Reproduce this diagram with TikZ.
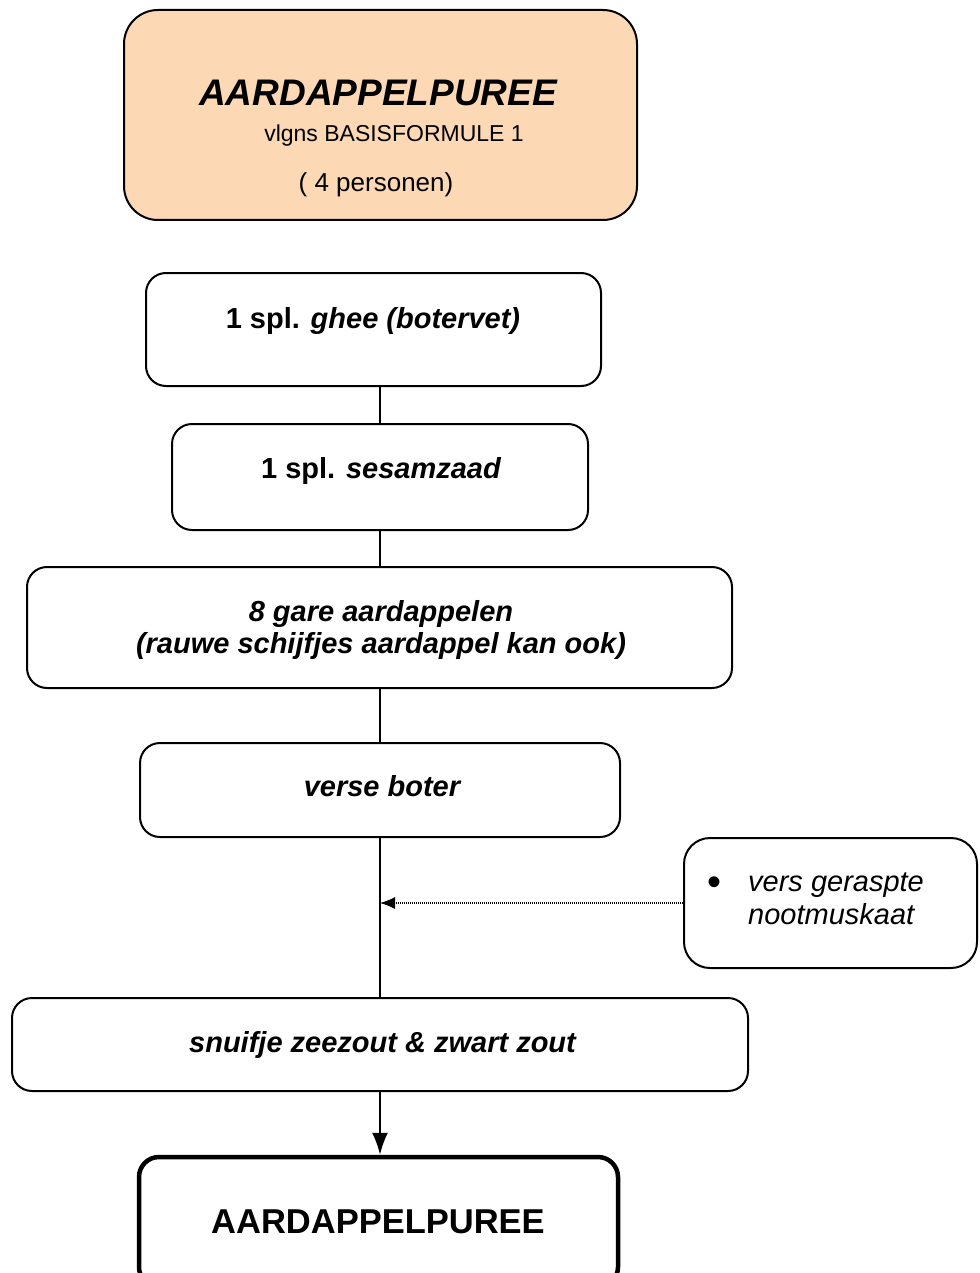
\documentclass[tikz,border=0pt]{standalone}
\usepackage{fontspec}
\setmainfont{Liberation Sans}
\usetikzlibrary{arrows.meta}
\definecolor{peach}{RGB}{252,216,181}
\tikzset{
    box/.style={draw, line width=2pt, rounded corners=20pt, inner sep=0pt},
    txt/.style={anchor=base, inner sep=0pt, font=\fontsize{29}{32}\selectfont\bfseries\itshape},
    link/.style={line width=2pt},
    dotlink/.style={line width=1.2pt, dash pattern=on 1pt off 1pt, -{Latex[length=15pt,width=12pt]}},
}

\begin{document}
\begin{tikzpicture}[x=1pt,y=-1pt]
\useasboundingbox (0,0) rectangle (979,1273);

\node[box, fill=peach, rounded corners=34pt, minimum width=513, minimum height=210] (titel) at (380.5,115) {};
\node[txt, font=\fontsize{37}{40}\selectfont\bfseries\itshape] (titeltxt) at (378,106) {AARDAPPELPUREE};
\node[txt, font=\fontsize{23}{26}\selectfont] (formule) at (394,142) {vlgns BASISFORMULE 1};
\node[txt, font=\fontsize{26}{28}\selectfont] (personen) at (376,192) {( 4 personen)};

\node[box, minimum width=455, minimum height=113] (ghee) at (373.5,329.5) {};
\node[txt] (gheetxt) at (373,328) {{\upshape 1 spl.} ghee (botervet)};

\node[box, minimum width=416, minimum height=106] (sesam) at (380,477) {};
\node[txt] (sesamtxt) at (381,478) {{\upshape 1 spl.} sesamzaad};

\node[box, minimum width=705, minimum height=121] (aardap) at (379.5,627.5) {};
\node[txt, anchor=center, align=center] (aardaptxt) at (381,630) {8 gare aardappelen\\(rauwe schijfjes aardappel kan ook)};

\node[box, minimum width=480, minimum height=94] (boter) at (380,790) {};
\node[txt] (botertxt) at (382,796) {verse boter};

\node[box, rounded corners=26pt, minimum width=293, minimum height=130] (nootm) at (830.5,903) {};
\node[txt, font=\fontsize{29}{33}\selectfont\itshape, anchor=west, align=left] (nootmtxt) at (707,899)
    {\makebox[41pt][l]{\raisebox{-4pt}{\upshape\fontsize{40}{33}\selectfont\textbullet}}vers geraspte\\\hspace*{41pt}nootmuskaat};

\node[box, minimum width=736, minimum height=93] (zout) at (380,1044.5) {};
\node[txt] (zouttxt) at (382.5,1052) {snuifje zeezout \& zwart zout};

\node[box, line width=4.5pt, minimum width=479, minimum height=130] (puree) at (378.5,1222) {};
\node[txt, font=\fontsize{34.5}{38}\selectfont\bfseries] (pureetxt) at (378,1233) {AARDAPPELPUREE};

\draw[link] (ghee.south -| sesam.north) -- (sesam.north);
\draw[link] (sesam.south) -- (sesam.south |- aardap.north);
\draw[link] (aardap.south -| boter.north) -- (boter.north);
\draw[link] (boter.south) -- (boter.south |- zout.north);
\draw[link, -{Latex[length=22pt,width=16pt]}] (zout.south) -- (zout.south |- puree.north);
\draw[dotlink] (nootm.west) -- (nootm.west -| boter.south);
\end{tikzpicture}
\end{document}
